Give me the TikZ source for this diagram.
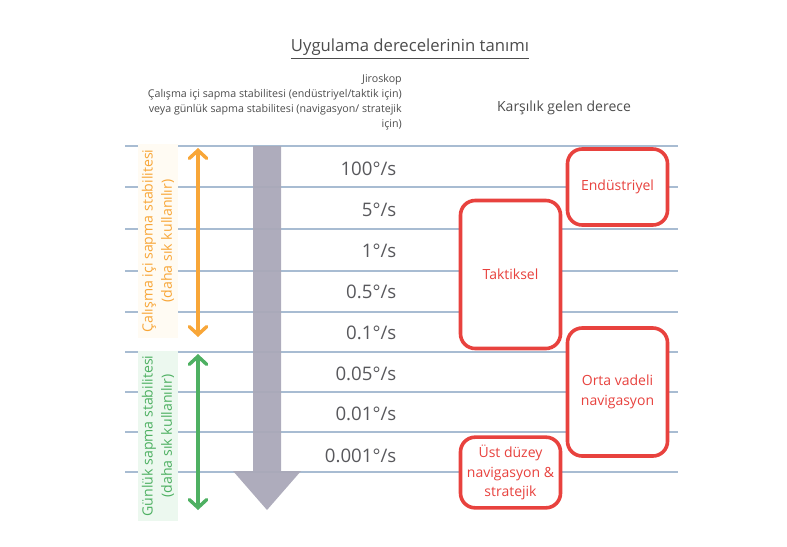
\documentclass[tikz,border=0pt]{standalone}
\usepackage{fontspec}
\setmainfont{Open Sans}
\usepackage{tikz}
\usetikzlibrary{arrows.meta, positioning}

\definecolor{gridblue}{RGB}{168,188,210}
\definecolor{bargray}{RGB}{170,168,184}
\definecolor{ratetext}{RGB}{88,88,92}
\definecolor{gradered}{RGB}{232,66,62}
\definecolor{workorange}{RGB}{248,166,56}
\definecolor{workfill}{RGB}{255,251,243}
\definecolor{daygreen}{RGB}{78,176,98}
\definecolor{dayfill}{RGB}{236,248,239}

\begin{document}
\begin{tikzpicture}[x=0.75pt, y=-0.75pt,
  rate/.style={anchor=east, text=ratetext, font=\fontsize{14}{16}\selectfont},
  grade/.style={draw=gradered, line width=2.7pt, rounded corners=11pt, text=gradered,
    align=center, inner sep=0pt, minimum width=75pt, font=\fontsize{10.5}{14.5}\selectfont},
  span/.style={line width=2.6pt, line cap=round,
    {Straight Barb[length=6pt,width=13pt,line cap=round]}-{Straight Barb[length=6pt,width=13pt,line cap=round]}},
  sidelabel/.style={rotate=90, align=center, inner sep=3pt, font=\fontsize{10.6}{14.5}\selectfont}]
  \useasboundingbox (0,0) rectangle (787,546);
  % Headings
  \node[text=black!70, font=\fontsize{12.5}{15}\selectfont] (title) at (410,49) {\underline{Uygulama derecelerinin tanımı}};
  \node[anchor=north east, align=right, text=black!70, inner sep=0pt, font=\fontsize{8}{11.4}\selectfont] (gyrohead) at (402,74)
    {Jiroskop\\Çalışma içi sapma stabilitesi (endüstriyel/taktik için)\\veya günlük sapma stabilitesi (navigasyon/ stratejik\\için)};
  \node[text=black!70, font=\fontsize{10.5}{13}\selectfont] (gradehead) at (564,108) {Karşılık gelen derece};
  % Grid lines
  \foreach \y in {146, 187, 229, 271, 312, 352, 392, 432, 472} {
    \draw[gridblue, line width=0.9pt] (125,\y) -- (678,\y);
  }
  % Scale arrow
  \fill[bargray, opacity=0.95] (253,146) -- (281,146) -- (281,471) -- (301,471) -- (267,510) -- (233,471) -- (253,471) -- cycle;
  % Rates
  \foreach \val/\y [count=\i] in {100/169, 5/210, 1/251, 0.5/292, 0.1/333, 0.05/374, 0.01/414, 0.001/456} {
    \node[rate] (r\i) at (401,\y) {\val°/s};
  }
  % Side labels
  \node[sidelabel, fill=workfill, text=workorange, minimum width=145pt] (worklabel) at (158,241)
    {Çalışma içi sapma stabilitesi\\(daha sık kullanılır)};
  \node[sidelabel, fill=dayfill, text=daygreen, minimum width=123pt] (daylabel) at (158,436)
    {Günlük sapma stabilitesi\\(daha sık kullanılır)};
  \coordinate (worktop) at (198,148);
  \coordinate (workbot) at (198,337);
  \coordinate (daytop) at (198,354);
  \coordinate (daybot) at (198,510);
  \draw[span, workorange] (worktop) -- (workbot);
  \draw[span, daygreen] (daytop) -- (daybot);
  % Grades
  \node[grade, fill=white, minimum height=57pt] (industrial) at (617.5,187) {Endüstriyel};
  \node[grade, fill=white, minimum height=111pt] (tactical) at (510.5,274.5) {Taktiksel};
  \node[grade, fill=white, minimum height=96pt] (midnav) at (617.5,392) {Orta vadeli\\navigasyon};
  \node[grade, fill=white, minimum height=53pt] (highnav) at (510.5,472.5) {Üst düzey\\navigasyon \&\\stratejik};
\end{tikzpicture}
\end{document}
